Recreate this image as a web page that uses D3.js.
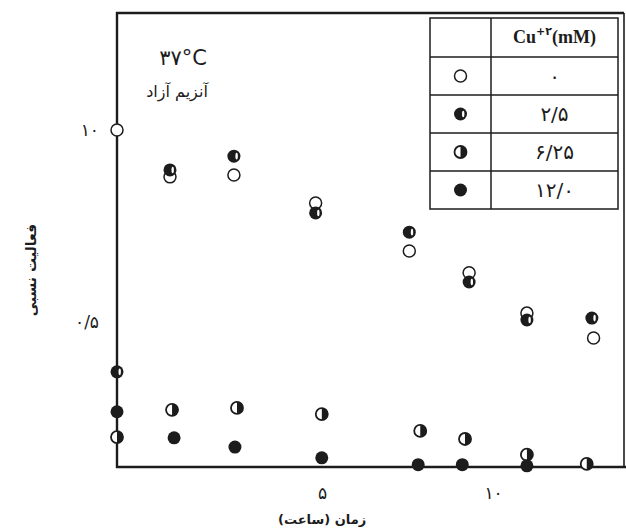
<!DOCTYPE html>
<html>
<head>
<meta charset="utf-8">
<script src="https://cdn.jsdelivr.net/npm/d3@7.9.0/dist/d3.min.js"></script>
<style>
  body { margin: 0; background: #fff; }
  svg { display: block; }
  .fa { font-family: 'DejaVu Sans', sans-serif; }
</style>
</head>
<body>
<svg id="chart" width="626" height="529"></svg>
<script>
// Cu+2 concentrations (legend labels) and marker kinds
const cuLevels = ['۰', '۲/۵', '۶/۲۵', '۱۲/۰'];
const markerKinds = ['open', 'mostly', 'half', 'full'];

// time (hours, read on the printed axis) and relative activity per series
const timeCu0 = [-1.0, 0.55, 2.42, 4.81, 7.55, 9.30, 10.99, 12.94];
const actCu0 = [1.0, 0.878, 0.883, 0.81, 0.685, 0.628, 0.523, 0.458];

const timeCu25 = [-1.0, 0.55, 2.42, 4.81, 7.55, 9.30, 10.99, 12.89];
const actCu25 = [0.37, 0.896, 0.932, 0.784, 0.734, 0.604, 0.505, 0.51];

const timeCu625 = [-1.0, 0.61, 2.51, 4.99, 7.87, 9.18, 10.99, 12.74];
const actCu625 = [0.20, 0.271, 0.276, 0.26, 0.216, 0.195, 0.154, 0.13];

const timeCu12 = [-1.0, 0.67, 2.45, 4.99, 7.81, 9.10, 10.99];
const actCu12 = [0.266, 0.198, 0.174, 0.146, 0.128, 0.128, 0.125];

// axis ticks
const xTickValues = [5, 10];
const xTickLabels = ['۵', '۱۰'];
const yTickValues = [0.5, 1.0];
const yTickLabels = ['۰/۵', '۱۰'];

const ink = '#1c1c1c';
const plotLeft = 117, plotRight = 624, plotTop = 13, plotBottom = 467;

const svg = d3.select('#chart');

const x = d3.scaleLinear().domain([-1, 13.83]).range([plotLeft, plotRight]);
const y = d3.scaleLinear().domain([0.122, 1.305]).range([plotBottom, plotTop]);

// frame
svg.append('path')
  .attr('d', `M${plotRight},${plotTop}H${plotLeft}V${plotBottom}H${plotRight + 2}`)
  .attr('fill', 'none')
  .attr('stroke', ink)
  .attr('stroke-width', 2.4);
svg.append('line')
  .attr('x1', plotRight).attr('x2', plotRight)
  .attr('y1', plotTop).attr('y2', plotBottom)
  .attr('stroke', ink).attr('stroke-width', 1.6);

// axes (labels only, no tick marks)
const xAxis = svg.append('g')
  .attr('transform', `translate(0,${plotBottom})`)
  .call(d3.axisBottom(x).tickValues(xTickValues).tickSize(0).tickPadding(20)
    .tickFormat((d, i) => xTickLabels[i]));
const yAxis = svg.append('g')
  .attr('transform', `translate(${plotLeft},0)`)
  .call(d3.axisLeft(y).tickValues(yTickValues).tickSize(0).tickPadding(18)
    .tickFormat((d, i) => yTickLabels[i]));
[xAxis, yAxis].forEach((g) => {
  g.select('.domain').remove();
  g.selectAll('text')
    .attr('class', 'fa')
    .attr('font-size', 17)
    .attr('fill', ink);
});

// axis titles
svg.append('text')
  .attr('class', 'fa')
  .attr('x', x(5))
  .attr('y', 524)
  .attr('text-anchor', 'middle')
  .attr('direction', 'rtl')
  .attr('font-size', 13)
  .attr('font-weight', 'bold')
  .attr('fill', ink)
  .text('زمان (ساعت)');

svg.append('text')
  .attr('class', 'fa')
  .attr('transform', `translate(36,${y(0.635)}) rotate(-90)`)
  .attr('text-anchor', 'middle')
  .attr('direction', 'rtl')
  .attr('font-size', 14)
  .attr('font-weight', 'bold')
  .attr('fill', ink)
  .text('فعالیت نسبی');

// annotation
svg.append('text')
  .attr('class', 'fa')
  .attr('x', 183).attr('y', 65)
  .attr('text-anchor', 'middle')
  .attr('font-size', 21)
  .attr('fill', ink)
  .text('۳۷°C');
svg.append('text')
  .attr('class', 'fa')
  .attr('x', 177).attr('y', 97)
  .attr('text-anchor', 'middle')
  .attr('direction', 'rtl')
  .attr('font-size', 16)
  .attr('fill', ink)
  .text('آنزیم آزاد');

// marker drawing
const r = 6;
function drawMarker(g, kind) {
  if (kind === 'open') {
    g.append('circle').attr('r', r).attr('fill', '#fff')
      .attr('stroke', ink).attr('stroke-width', 1.5);
  } else if (kind === 'full') {
    g.append('circle').attr('r', r + 0.5).attr('fill', ink);
  } else if (kind === 'half') {
    g.append('circle').attr('r', r).attr('fill', '#fff')
      .attr('stroke', ink).attr('stroke-width', 1.8);
    g.append('path')
      .attr('d', `M0,${-r}A${r},${r} 0 0 1 0,${r}Z`)
      .attr('fill', ink);
  } else {
    g.append('circle').attr('r', r + 0.5).attr('fill', ink);
    g.append('ellipse')
      .attr('cx', r * 0.45).attr('cy', 0)
      .attr('rx', r * 0.2).attr('ry', r * 0.55)
      .attr('fill', '#fff');
  }
}

const seriesTimes = [timeCu0, timeCu25, timeCu625, timeCu12];
const seriesActs = [actCu0, actCu25, actCu625, actCu12];

seriesTimes.forEach((times, s) => {
  const pts = times.map((t, i) => ({ t, a: seriesActs[s][i] }));
  svg.append('g')
    .selectAll('g')
    .data(pts)
    .join('g')
    .attr('transform', (d) => `translate(${x(d.t)},${y(d.a)})`)
    .each(function () {
      drawMarker(d3.select(this), markerKinds[s]);
    });
});

// legend table
const lg = { x0: 430, x1: 491, x2: 618, y0: 18, header: 39, row: 38 };
const table = svg.append('g');
table.append('rect')
  .attr('x', lg.x0).attr('y', lg.y0)
  .attr('width', lg.x2 - lg.x0)
  .attr('height', lg.header + lg.row * cuLevels.length)
  .attr('fill', '#fff')
  .attr('stroke', ink).attr('stroke-width', 1.5);
table.append('line')
  .attr('x1', lg.x1).attr('x2', lg.x1)
  .attr('y1', lg.y0).attr('y2', lg.y0 + lg.header + lg.row * cuLevels.length)
  .attr('stroke', ink).attr('stroke-width', 1.5);

const headerText = table.append('text')
  .attr('x', (lg.x1 + lg.x2) / 2)
  .attr('y', lg.y0 + 25)
  .attr('text-anchor', 'middle')
  .attr('font-family', 'Liberation Serif, serif')
  .attr('font-weight', 'bold')
  .attr('font-size', 18)
  .attr('fill', ink);
headerText.append('tspan').text('Cu');
headerText.append('tspan')
  .attr('class', 'fa')
  .attr('font-size', 11)
  .attr('dy', -8)
  .text('+۲');
headerText.append('tspan').attr('dy', 8).text('(mM)');

cuLevels.forEach((label, i) => {
  const yTop = lg.y0 + lg.header + lg.row * i;
  table.append('line')
    .attr('x1', lg.x0).attr('x2', lg.x2)
    .attr('y1', yTop).attr('y2', yTop)
    .attr('stroke', ink).attr('stroke-width', 1.5);
  const m = table.append('g')
    .attr('transform', `translate(${(lg.x0 + lg.x1) / 2},${yTop + lg.row / 2})`);
  drawMarker(m, markerKinds[i]);
  table.append('text')
    .attr('class', 'fa')
    .attr('x', (lg.x1 + lg.x2) / 2)
    .attr('y', yTop + lg.row / 2 + 7)
    .attr('text-anchor', 'middle')
    .attr('font-size', 20)
    .attr('fill', ink)
    .text(label);
});
</script>
</body>
</html>
